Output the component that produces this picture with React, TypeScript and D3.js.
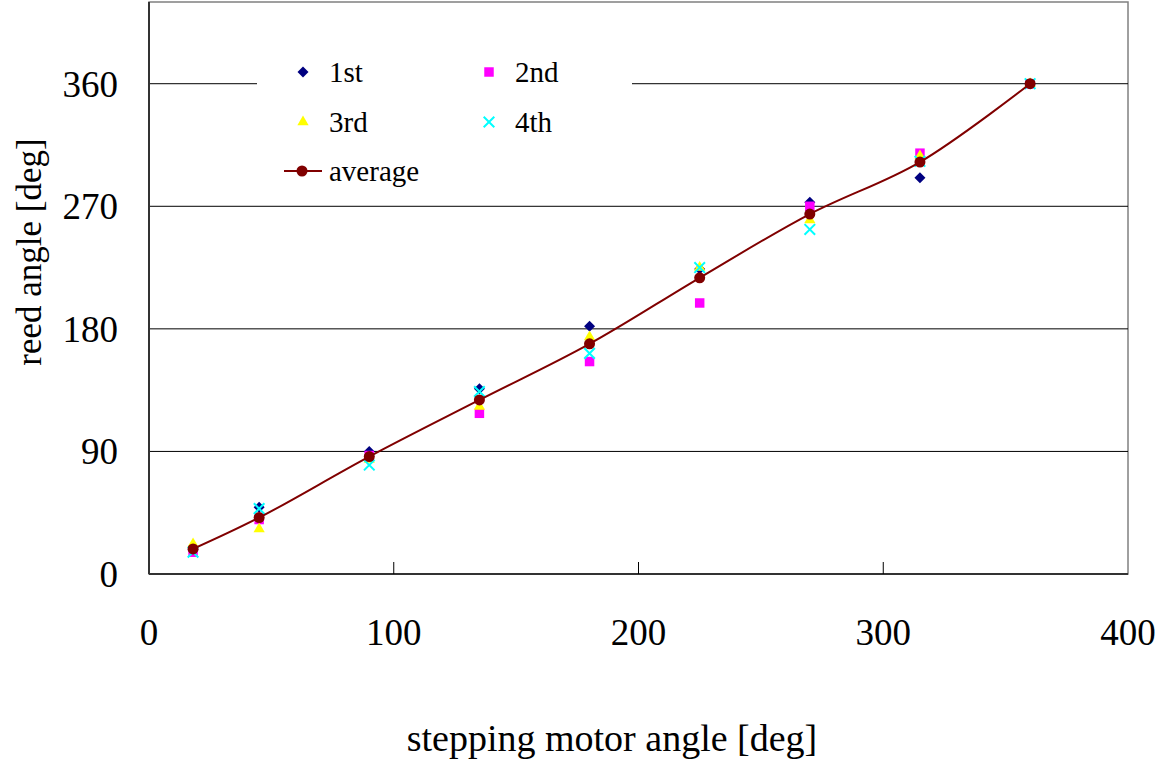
import { useEffect, useRef } from "react";
import * as d3 from "d3";

const motorAngles = [18, 45, 90, 135, 180, 225, 270, 315, 360];
const run1 = [18, 49, 90, 136, 182, 224, 273, 291, 360];
const run2 = [16, 40, 87, 118, 156, 199, 270, 309, 360];
const run3 = [22, 33, 84, 123, 174, 225, 260, 307, 360];
const run4 = [16, 48, 80, 134, 162, 225, 253, 303, 360];
const average = [18.4, 41.4, 86.2, 127.8, 169, 217.5, 264.3, 302.5, 360];
const xTicks = [0, 100, 200, 300, 400];
const yTicks = [0, 90, 180, 270, 360];

const W = 1171;
const H = 764;
const FONT = '"Liberation Serif", "Times New Roman", "DejaVu Serif", serif';

export default function App() {
  const ref = useRef<SVGSVGElement>(null);

  useEffect(() => {
    const svg = d3.select(ref.current);
    svg.selectAll("*").remove();

    const x = d3.scaleLinear().domain([0, 400]).range([149, 1128]);
    const y = d3.scaleLinear().domain([0, 420]).range([574, 2]);

    // frame
    svg.append("rect")
      .attr("x", 149).attr("y", 2)
      .attr("width", 1128 - 149).attr("height", 574 - 2)
      .attr("fill", "white").attr("stroke", "#808080").attr("stroke-width", 1.5);

    // gridlines
    svg.append("g")
      .selectAll("line")
      .data(yTicks.filter((d) => d > 0))
      .join("line")
      .attr("x1", 149).attr("x2", 1128)
      .attr("y1", (d) => y(d)).attr("y2", (d) => y(d))
      .attr("stroke", "#000").attr("stroke-width", 1);

    // axis lines
    svg.append("line").attr("x1", 149).attr("x2", 149).attr("y1", 2).attr("y2", 574)
      .attr("stroke", "#333").attr("stroke-width", 2);
    svg.append("line").attr("x1", 149).attr("x2", 1128).attr("y1", 574).attr("y2", 574)
      .attr("stroke", "#333").attr("stroke-width", 2);

    // x ticks (inward)
    svg.append("g")
      .selectAll("line")
      .data(xTicks.slice(1, -1))
      .join("line")
      .attr("x1", (d) => x(d)).attr("x2", (d) => x(d))
      .attr("y1", 574).attr("y2", 562)
      .attr("stroke", "#000");

    const txt = svg.append("g").style("font-family", FONT).attr("fill", "#000");

    // tick labels
    txt.append("g")
      .selectAll("text")
      .data(xTicks)
      .join("text")
      .attr("x", (d) => x(d)).attr("y", 645)
      .attr("text-anchor", "middle")
      .attr("font-size", 37)
      .text((d) => d);

    txt.append("g")
      .selectAll("text")
      .data(yTicks)
      .join("text")
      .attr("x", 118).attr("y", (d) => y(d))
      .attr("dy", "0.35em")
      .attr("text-anchor", "end")
      .attr("font-size", 37)
      .text((d) => d);

    // axis titles
    txt.append("text")
      .attr("x", 612).attr("y", 751)
      .attr("text-anchor", "middle")
      .attr("font-size", 38)
      .text("stepping motor angle [deg]");
    txt.append("text")
      .attr("transform", "translate(41,252) rotate(-90)")
      .attr("text-anchor", "middle")
      .attr("font-size", 35)
      .text("reed angle [deg]");

    // legend box hides the 360 gridline
    svg.append("rect")
      .attr("x", 257).attr("y", 48).attr("width", 375).attr("height", 148)
      .attr("fill", "white");

    const diamond = "M0,-5.5L5.5,0L0,5.5L-5.5,0Z";
    const square = d3.symbol(d3.symbolSquare, 90)();
    const triangle = d3.symbol(d3.symbolTriangle, 55)();
    const cross = d3.symbol(d3.symbolX, 75)();

    const series = [
      { name: "1st", vals: run1, path: diamond, fill: "#000080", stroke: "none", sw: 0, lx: 303, ly: 72 },
      { name: "2nd", vals: run2, path: square, fill: "#FF00FF", stroke: "none", sw: 0, lx: 489, ly: 72 },
      { name: "3rd", vals: run3, path: triangle, fill: "#FFFF00", stroke: "none", sw: 0, lx: 303, ly: 122 },
      { name: "4th", vals: run4, path: cross, fill: "none", stroke: "#00FFFF", sw: 2, lx: 489, ly: 122 },
    ];

    series.forEach((s) => {
      svg.append("g")
        .selectAll("path")
        .data(s.vals)
        .join("path")
        .attr("transform", (d, i) => `translate(${x(motorAngles[i])},${y(d)})`)
        .attr("d", s.path)
        .attr("fill", s.fill).attr("stroke", s.stroke).attr("stroke-width", s.sw);

      svg.append("path")
        .attr("transform", `translate(${s.lx},${s.ly})`)
        .attr("d", s.path)
        .attr("fill", s.fill).attr("stroke", s.stroke).attr("stroke-width", s.sw);
      txt.append("text")
        .attr("x", s.lx + 26).attr("y", s.ly).attr("dy", "0.35em")
        .attr("font-size", 29)
        .text(s.name);
    });

    // average smoothed line
    const line = d3.line<number>()
      .x((d, i) => x(motorAngles[i]))
      .y((d) => y(d))
      .curve(d3.curveCatmullRom.alpha(0.5));
    svg.append("path")
      .attr("d", line(average))
      .attr("fill", "none").attr("stroke", "#800000").attr("stroke-width", 2);
    svg.append("g")
      .selectAll("circle")
      .data(average)
      .join("circle")
      .attr("cx", (d, i) => x(motorAngles[i])).attr("cy", (d) => y(d))
      .attr("r", 5.5).attr("fill", "#800000");

    // average legend
    svg.append("line").attr("x1", 284).attr("x2", 322).attr("y1", 171).attr("y2", 171)
      .attr("stroke", "#800000").attr("stroke-width", 2);
    svg.append("circle").attr("cx", 302).attr("cy", 171).attr("r", 5.5).attr("fill", "#800000");
    txt.append("text")
      .attr("x", 329).attr("y", 171).attr("dy", "0.35em")
      .attr("font-size", 29)
      .text("average");
    txt.raise();
  }, []);

  return (
    <svg ref={ref} width={W} height={H}
      style={{ position: "absolute", left: 0, top: 0, background: "white" }} />
  );
}
